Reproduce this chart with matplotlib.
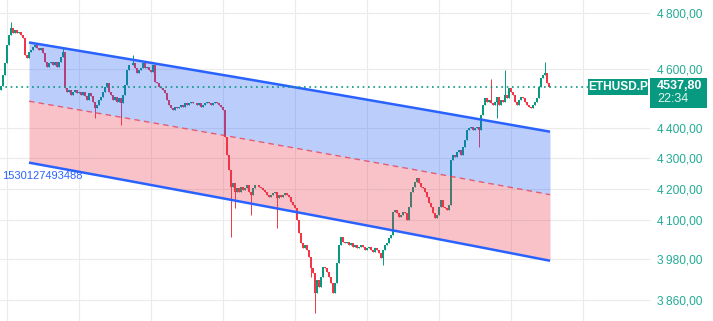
import numpy as np
import matplotlib
matplotlib.use("Agg")
import matplotlib.pyplot as plt
from matplotlib.patches import Rectangle
from matplotlib.ticker import NullLocator, NullFormatter

plt.rcParams['font.family'] = ['Liberation Sans', 'DejaVu Sans']

# ETHUSD.P closes, one candle every bar
FIRST_OPEN = 4528
CLOSES = [
    4541, 4579, 4621, 4685, 4720, 4746, 4728, 4738, 4728, 4731, 4720, 4710, 4649, 4639,
    4660, 4667, 4678, 4685, 4674, 4667, 4674, 4656, 4625, 4607, 4621, 4625, 4614, 4625, 4607, 4625, 4642, 4660,
    4534, 4520, 4527, 4510, 4520, 4527, 4517, 4520, 4510, 4520, 4507, 4493, 4517, 4507, 4486, 4466, 4476, 4493,
    4503, 4520, 4538, 4551, 4520, 4510, 4493, 4503, 4486, 4500, 4483, 4510, 4544, 4597, 4614, 4614, 4621, 4604,
    4586, 4597, 4604, 4621, 4604, 4607, 4597, 4590, 4614, 4555, 4551, 4538, 4534, 4527, 4517, 4493, 4476, 4466,
    4459, 4469, 4466, 4469, 4476, 4469, 4483, 4476, 4483, 4486, 4483, 4483, 4476, 4483, 4469, 4476, 4483, 4486,
    4483, 4476, 4483, 4486, 4483, 4476, 4469, 4459, 4368, 4309, 4260, 4206, 4218, 4190, 4202, 4190, 4206, 4196,
    4202, 4212, 4190, 4180, 4202, 4212, 4212, 4206, 4202, 4196, 4190, 4180, 4173, 4180, 4186, 4190, 4170, 4180,
    4173, 4180, 4186, 4180, 4173, 4158, 4148, 4139, 4101, 4061, 4030, 4015, 4024, 4009, 3988, 3954, 3939, 3880,
    3919, 3898, 3927, 3957, 3954, 3942, 3927, 3910, 3880, 3910, 3969, 4024, 4049, 4033, 4030, 4033, 4024, 4030,
    4018, 4024, 4015, 4018, 4024, 4018, 4009, 4015, 4018, 4009, 4003, 4015, 4009, 4000, 3985, 4009, 4024, 4030,
    4046, 4055, 4126, 4133, 4123, 4111, 4117, 4126, 4123, 4101, 4142, 4190, 4206, 4221, 4234, 4218, 4206, 4202,
    4190, 4173, 4155, 4142, 4123, 4108, 4117, 4142, 4164, 4142, 4139, 4133, 4148, 4293, 4309, 4302, 4319, 4325,
    4309, 4335, 4358, 4392, 4398, 4402, 4392, 4398, 4402, 4392, 4442, 4476, 4500, 4486, 4493, 4483, 4476, 4486,
    4503, 4476, 4493, 4486, 4510, 4500, 4534, 4520, 4510, 4486, 4476, 4493, 4503, 4500, 4486, 4476, 4469, 4466,
    4476, 4486, 4500, 4538, 4569, 4579, 4586, 4551, 4537.8,
]
# long wicks (candle index -> price)
WICK_HIGHS = {5: 4767, 31: 4674, 66: 4649, 245: 4565, 252: 4597, 272: 4625}
WICK_LOWS = {47: 4432, 60: 4408, 115: 4049, 117: 4139, 125: 4117, 138: 4076,
             155: 3927, 157: 3821, 191: 3963, 239: 4335, 248: 4432}

# regression channel
CH_START, CH_END = 14, 274.5
MID_START, MID_END = 4489, 4181
CH_DEV = 205
CH_LABEL = "1530127493488"

LAST_PRICE = 4537.8
SYMBOL = "ETHUSD.P"
COUNTDOWN = "22:34"
PRICE_TICKS = [3860, 3980, 4100, 4200, 4300, 4400, 4600, 4800]

UP = "#089981"
DOWN = "#f23645"
BLUE = "#2962ff"
AXIS_TXT = "#22ab94"

W, H = 713, 321
fig = plt.figure(figsize=(W / 100, H / 100), dpi=100)
ax = fig.add_axes([0, 0, 650 / W, 1])

closes = np.array(CLOSES, dtype=float)
opens = np.concatenate([[FIRST_OPEN], closes[:-1]])
highs = np.maximum(opens, closes)
lows = np.minimum(opens, closes)
for i, v in WICK_HIGHS.items():
    highs[i] = max(highs[i], v)
for i, v in WICK_LOWS.items():
    lows[i] = min(lows[i], v)
idx = np.arange(len(closes))
colors = np.where(closes >= opens, UP, DOWN)

ax.vlines(idx, lows, highs, colors=colors, lw=0.7, zorder=2)
ax.bar(idx, np.maximum(np.abs(closes - opens), 1.0), bottom=np.minimum(opens, closes),
       width=0.65, color=colors, linewidth=0, zorder=2)

# channel
xs = np.linspace(CH_START, CH_END, 200)
slope = (MID_END - MID_START) / (CH_END - CH_START)
mid = MID_START + slope * (xs - CH_START)
upper = mid + CH_DEV
lower = mid - CH_DEV
ax.fill_between(xs, mid, upper, color="#1f5cf5", alpha=0.3, lw=0, zorder=3)
ax.fill_between(xs, lower, mid, color="#e8374b", alpha=0.3, lw=0, zorder=3)
ax.plot(xs, upper, color=BLUE, lw=1.8, zorder=4, solid_capstyle="butt")
ax.plot(xs, lower, color=BLUE, lw=1.8, zorder=4, solid_capstyle="butt")
ax.plot(xs, mid, color=DOWN, lw=1.0, ls=(0, (4, 3)), alpha=0.75, zorder=4)

# last price dotted line
ax.axhline(LAST_PRICE, xmin=0, xmax=588 / 650, color=UP, lw=1.2, ls=(0, (1, 2.2)), zorder=5)

ax.set_yscale("log")
ax.set_ylim(3798, 4848)
ax.set_xlim(-0.5, 324.5)
ax.set_yticks(PRICE_TICKS)
ax.set_yticklabels([f"{t // 1000}\u2009{t % 1000:03d},00" for t in PRICE_TICKS])
ax.yaxis.set_minor_locator(NullLocator())
ax.yaxis.set_minor_formatter(NullFormatter())
ax.yaxis.tick_right()
ax.tick_params(axis="y", length=0, pad=5, labelsize=8.6, labelcolor=AXIS_TXT)
ax.set_xticks(np.arange(3, 300, 36))
ax.tick_params(axis="x", length=0, labelbottom=False)
ax.grid(True, color="#ebebeb", lw=0.8, zorder=0)
ax.set_axisbelow(True)
for s in ax.spines.values():
    s.set_visible(False)

fig.text(2 / W, 1 - 176 / H, CH_LABEL, color=BLUE, fontsize=8, va="center", ha="left")

# price labels on the right
fig.canvas.draw()
ypx = ax.transData.transform((0, LAST_PRICE))[1]
ov = fig.add_axes([0, 0, 1, 1])
ov.set_xlim(0, W)
ov.set_ylim(0, H)
ov.set_axis_off()
ov.add_patch(Rectangle((588, ypx - 8), 60, 16, color=UP, lw=0))
ov.text(618, ypx, SYMBOL, color="white", fontsize=8.6, ha="center", va="center", fontweight="bold")
ov.add_patch(Rectangle((650, ypx - 21), 57, 30, color=UP, lw=0))
ov.text(657, ypx + 1, f"{LAST_PRICE:.2f}".replace(".", ","), color="white", fontsize=9,
        ha="left", va="center", fontweight="bold")
ov.text(657, ypx - 12.5, COUNTDOWN, color="#e6f5f1", fontsize=9, ha="left", va="center")

fig.savefig("out.png", dpi=100)
